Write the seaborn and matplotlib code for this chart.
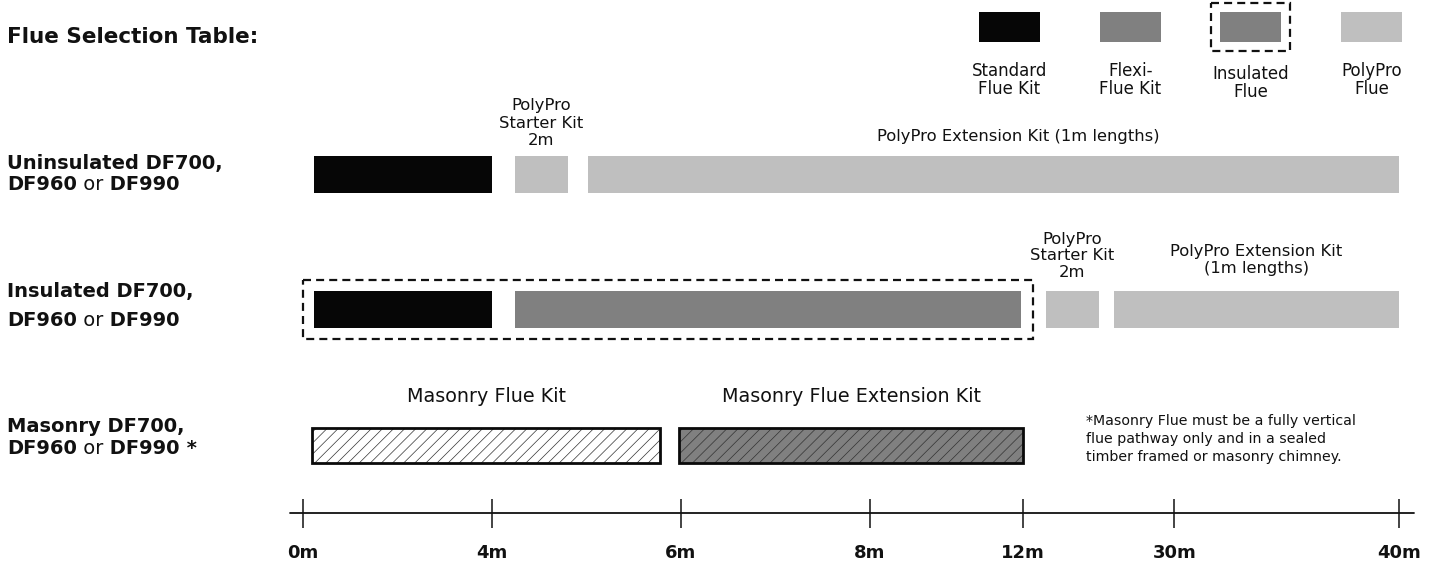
import matplotlib
matplotlib.use("Agg")
import matplotlib.pyplot as plt
from matplotlib.patches import Rectangle
import seaborn as sns

sns.set_theme(style="white")
plt.rcParams["font.family"] = ["DejaVu Sans"]
plt.rcParams["hatch.linewidth"] = 0.5
plt.rcParams["text.color"] = "#111111"

# -------------------------------------------------------------
# Data (x in scale units: 1 unit = distance between 0m and 4m ticks)
# -------------------------------------------------------------
tick_labels = ["0m", "4m", "6m", "8m", "12m", "30m", "40m"]
tick_pos = [0.0, 1.0, 2.0, 3.0, 3.81, 4.61, 5.80]

uninsulated_kind = ["Standard Flue Kit", "PolyPro Flue", "PolyPro Flue"]
uninsulated_start = [0.06, 1.12, 1.51]
uninsulated_end = [1.00, 1.40, 5.80]

insulated_kind = ["Standard Flue Kit", "Flexi-Flue Kit", "PolyPro Flue", "PolyPro Flue"]
insulated_start = [0.06, 1.12, 3.93, 4.29]
insulated_end = [1.00, 3.80, 4.21, 5.80]
insulated_box = [0.0, 3.86]

masonry_kind = ["Masonry Flue Kit", "Masonry Flue Extension Kit"]
masonry_start = [0.05, 1.99]
masonry_end = [1.89, 3.81]

legend_kind = ["Standard Flue Kit", "Flexi-Flue Kit", "Insulated Flue", "PolyPro Flue"]
legend_labels = ["Standard\nFlue Kit", "Flexi-\nFlue Kit", "Insulated\nFlue", "PolyPro\nFlue"]

colors = {
    "Standard Flue Kit": "#060606",
    "Flexi-Flue Kit": "#808080",
    "Insulated Flue": "#808080",
    "PolyPro Flue": "#bfbfbf",
    "Masonry Flue Kit": "#ffffff",
    "Masonry Flue Extension Kit": "#808080",
}

footnote = ("*Masonry Flue must be a fully vertical\n"
            "flue pathway only and in a sealed\n"
            "timber framed or masonry chimney.")

# -------------------------------------------------------------
# Figure / coordinate helpers
# -------------------------------------------------------------
W, H = 1443, 568
fig = plt.figure(figsize=(W / 100, H / 100), dpi=100)
ax = fig.add_axes([0, 0, 1, 1])
X0, UX = 303.0, 189.0
Y0, UY = 174.3, 135.6
ax.set_xlim(-X0 / UX, (W - X0) / UX)
ax.set_ylim((H - Y0) / UY, -Y0 / UY)
ax.axis("off")


def px(v):
    return (v - X0) / UX


def py(v):
    return (v - Y0) / UY


BAR_H = 37 / UY
DASH = (0, (3.6, 2.3))


def draw_row(y, starts, ends, kinds):
    for s, e, k in zip(starts, ends, kinds):
        ax.barh(y, e - s, left=s, height=BAR_H, color=colors[k], linewidth=0)


def rich_line(x, y, parts, size):
    t = ax.text(x, y, parts[0][0], fontweight=parts[0][1], fontsize=size,
                ha="left", va="center")
    for s, w in parts[1:]:
        t = ax.annotate(s, xy=(1, 0), xycoords=t, fontweight=w, fontsize=size,
                        ha="left", va="bottom")


# -------------------------------------------------------------
# Rows
# -------------------------------------------------------------
draw_row(0, uninsulated_start, uninsulated_end, uninsulated_kind)
draw_row(1, insulated_start, insulated_end, insulated_kind)
ax.add_patch(Rectangle((insulated_box[0], py(280)), insulated_box[1] - insulated_box[0],
                       py(339) - py(280), fill=False, edgecolor="#111111",
                       linewidth=1.6, linestyle=DASH))

for s, e, k in zip(masonry_start, masonry_end, masonry_kind):
    ax.barh(2, e - s, left=s, height=BAR_H - 0.01, color=colors[k],
            edgecolor="#333333", hatch="///", linewidth=0)
    ax.barh(2, e - s, left=s, height=BAR_H - 0.01, fill=False,
            edgecolor="#0a0a0a", linewidth=2)

# segment captions
fs = 11.8
ax.text((uninsulated_start[1] + uninsulated_end[1]) / 2, py(123), "PolyPro\nStarter Kit\n2m",
        ha="center", va="center", fontsize=fs, linespacing=1.2)
ax.text(px(1018), py(137), "PolyPro Extension Kit (1m lengths)",
        ha="center", va="center", fontsize=fs)
ax.text((insulated_start[2] + insulated_end[2]) / 2, py(256), "PolyPro\nStarter Kit\n2m",
        ha="center", va="center", fontsize=fs, linespacing=1.15)
ax.text((insulated_start[3] + insulated_end[3]) / 2, py(260), "PolyPro Extension Kit\n(1m lengths)",
        ha="center", va="center", fontsize=fs, linespacing=1.12)
for s, e, k in zip(masonry_start, masonry_end, masonry_kind):
    ax.text((s + e) / 2, py(397), k, ha="center", va="center", fontsize=13.8)

ax.text(px(1086), py(439), footnote, ha="left", va="center", fontsize=10.2, linespacing=1.35)

# -------------------------------------------------------------
# Left labels / title
# -------------------------------------------------------------
ax.text(px(7), py(37), "Flue Selection Table:", ha="left", va="center",
        fontsize=15.5, fontweight="bold")
row_line1 = ["Uninsulated DF700,", "Insulated DF700,", "Masonry DF700,"]
row_line1_y = [164, 291, 426]
row_line2_y = [185, 320, 449]
for i, lab in enumerate(row_line1):
    ax.text(px(7), py(row_line1_y[i]), lab, ha="left", va="center",
            fontsize=14, fontweight="bold")
    parts = [("DF960", "bold"), (" or", "normal"), (" DF990", "bold")]
    if i == 2:
        parts.append((" *", "bold"))
    rich_line(px(7), py(row_line2_y[i]), parts, 14)

# -------------------------------------------------------------
# Scale axis
# -------------------------------------------------------------
ax.plot([tick_pos[0] - 0.07, tick_pos[-1] + 0.08], [py(513), py(513)],
        color="#111111", linewidth=1.3)
ax.vlines(tick_pos, py(499), py(528), color="#111111", linewidth=1.1)
for p, lab in zip(tick_pos, tick_labels):
    ax.text(p, py(553), lab, ha="center", va="center", fontsize=13, fontweight="bold")

# -------------------------------------------------------------
# Legend
# -------------------------------------------------------------
leg_left = [979, 1100, 1220, 1341]
for i, (k, lab) in enumerate(zip(legend_kind, legend_labels)):
    x0, x1 = px(leg_left[i]), px(leg_left[i] + 61)
    ax.add_patch(Rectangle((x0, py(12)), x1 - x0, py(42) - py(12),
                           facecolor=colors[k], linewidth=0))
    ty = 83 if k == "Insulated Flue" else 80
    ax.text((x0 + x1) / 2, py(ty), lab, ha="center", va="center",
            fontsize=12, linespacing=1.05)
ax.add_patch(Rectangle((px(1211), py(3)), px(1290) - px(1211), py(51) - py(3),
                       fill=False, edgecolor="#111111", linewidth=1.6, linestyle=DASH))

plt.savefig("out.png", dpi=100)
plt.close()
